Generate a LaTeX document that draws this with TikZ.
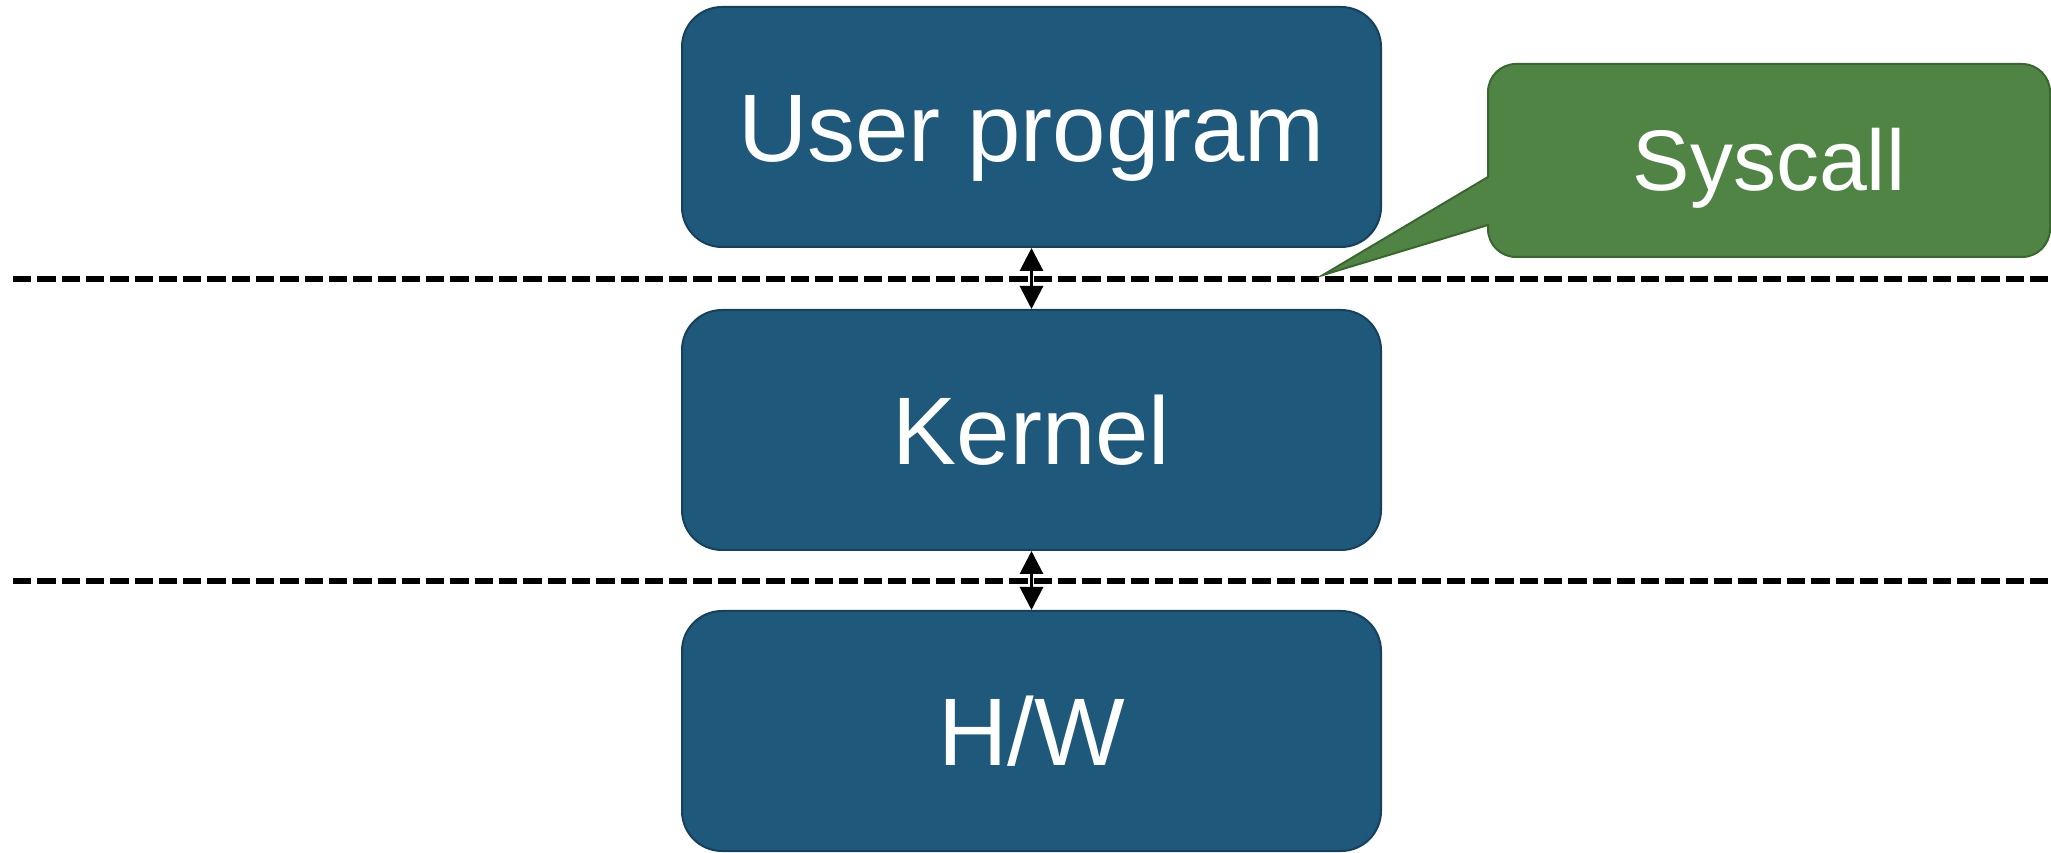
\documentclass[tikz,border=0pt]{standalone}
\usepackage{fontspec}
\setmainfont{Liberation Sans}
\usetikzlibrary{arrows.meta}
\definecolor{boxblue}{RGB}{30,89,124}
\definecolor{boxblueline}{RGB}{22,64,92}
\definecolor{callgreen}{RGB}{79,132,68}
\definecolor{callgreenline}{RGB}{58,102,48}
\tikzset{
  layerbox/.style={draw=boxblueline, line width=2pt, fill=boxblue, rounded corners=40pt,
    minimum width=699pt, minimum height=240pt, inner sep=0pt, text=white,
    font=\fontsize{96}{110}\selectfont, text height=69pt, text depth=-5pt},
  calloutshape/.style={draw=callgreenline, line width=2pt, fill=callgreen},
  calltext/.style={text=white, inner sep=0pt, font=\fontsize{86}{100}\selectfont,
    text height=62pt, text depth=-3pt},
  boundary/.style={line width=5.5pt, dash pattern=on 18.3pt off 6pt},
  bothway/.style={line width=3pt, {Triangle[width=23pt,length=23pt]}-{Triangle[width=23pt,length=23pt]}}
}
\begin{document}
\begin{tikzpicture}[x=1pt,y=1pt]
\useasboundingbox[fill=white] (0,0) rectangle (2051,852);
% layer boxes
\node[layerbox] (user) at (1031.5,725) {User program};
\node[layerbox] (kernel) at (1031.5,422) {Kernel};
\node[layerbox] (hw) at (1031.5,121) {H/W};
% dashed boundaries
\coordinate (b1l) at (13,573);
\coordinate (b1r) at (2051,573);
\coordinate (b2l) at (13,271);
\coordinate (b2r) at (2051,271);
\draw[boundary] (b1l) -- (b1r);
\draw[boundary] (b2l) -- (b2r);
% arrows
\draw[bothway] (user.south) -- (kernel.north);
\draw[bothway] (kernel.south) -- (hw.north);
% callout
\draw[calloutshape] (1488,627) -- (1323,577) -- (1488,675) -- (1488,760)
  arc[start angle=180, end angle=90, radius=28pt] -- (2022,788)
  arc[start angle=90, end angle=0, radius=28pt] -- (2050,623)
  arc[start angle=0, end angle=-90, radius=28pt] -- (1516,595)
  arc[start angle=-90, end angle=-180, radius=28pt] -- cycle;
\node[calltext] (syscall) at (1769,692) {Syscall};
\end{tikzpicture}
\end{document}
